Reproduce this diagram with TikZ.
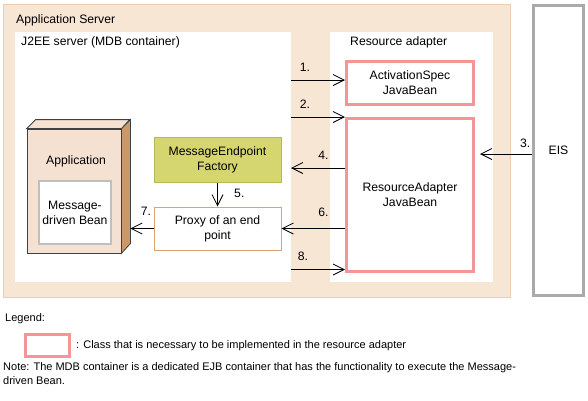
\documentclass[tikz,border=0pt]{standalone}
\usepackage{fontspec}
\setmainfont{Liberation Sans}
\usetikzlibrary{arrows.meta,positioning}
\definecolor{peach}{RGB}{248,230,213}
\definecolor{peachline}{RGB}{238,206,176}
\definecolor{implpink}{RGB}{244,150,150}
\definecolor{factory}{RGB}{214,214,112}
\definecolor{factoryline}{RGB}{182,186,84}
\definecolor{proxyline}{RGB}{218,164,112}
\definecolor{appfront}{RGB}{244,225,210}
\definecolor{appside}{RGB}{201,152,108}
\definecolor{eisline}{RGB}{170,170,170}

\begin{document}
\begin{tikzpicture}[x=1pt, y=-1pt, font=\fontsize{12.2}{15}\selectfont,
                    area/.style = {inner sep=0, outer sep=0, fill=white},
                    impl/.style = {draw=implpink, line width=3pt, fill=white, align=center, inner sep=0, minimum width=127pt},
                    box/.style = {draw, line width=1pt, align=center, inner sep=0, minimum width=127pt},
                    msg/.style = {-{Straight Barb[length=11pt,width=11pt]}, line width=0.8pt},
                    num/.style = {above=7pt, inner sep=1pt}]
                    \useasboundingbox (0,0) rectangle (588,400);
                    % containers
                    \node[area, draw=peachline, fill=peach, line width=1pt, minimum width=507pt, minimum height=293pt] (appsrv) at (256.5,150.5) {};
                    \node[area, minimum width=276pt, minimum height=250pt] (j2ee) at (153,157) {};
                    \node[area, minimum width=163pt, minimum height=250pt] (racont) at (411.5,157) {};
                    \node[anchor=west, inner sep=0] (appsrvlbl) at (16,20) {Application Server};
                    \node[anchor=west, inner sep=0] (j2eelbl) at (21,42) {J2EE server (MDB container)};
                    \node[anchor=west, inner sep=0] (racontlbl) at (350,42) {Resource adapter};
                    \node[draw=eisline, line width=3pt, fill=white, minimum width=50pt, minimum height=290pt, inner sep=0] (eis) at (558.5,150.5) {EIS};
                    % application
                    \node[draw=black!75, fill=appfront, line width=0.8pt, minimum width=94pt, minimum height=124pt, inner sep=0] (app) at (74,191) {};
                    \draw[draw=black!75, fill=appside, line width=0.8pt] (app.north east) -- ++(9,-9) -- ++(0,124) -- (app.south east) -- cycle;
                    \draw[draw=black!75, fill=appfront, line width=0.8pt] (app.north west) -- ++(9,-9) -- ++(94,0) -- (app.north east) -- cycle;
                    \node (applbl) at (76,161) {Application};
                    \node[draw=black!25, line width=1.5pt, fill=white, minimum width=72pt, minimum height=63pt, inner sep=0, align=center] (mdb) at (75,212.5) {Message-\\driven Bean};
                    % beans
                    \node[box, draw=factoryline, fill=factory, minimum height=45pt] (mef) at (217.5,159.5) {MessageEndpoint\\Factory};
                    \node[box, draw=proxyline, fill=white, minimum height=43pt] (proxy) at (217.5,228.5) {Proxy of an end\\point};
                    \node[impl, minimum height=43pt] (aspec) at (410,83) {ActivationSpec\\JavaBean};
                    \node[impl, minimum height=153pt] (rabean) at (410,195) {ResourceAdapter\\JavaBean};
                    % messages
                    \coordinate (m1) at ([yshift=3pt]aspec.west);
                    \coordinate (m3) at (480,154);
                    \coordinate (m4) at (rabean.west |- 0,168);
                    \coordinate (m7) at ([xshift=9pt]app.east |- proxy.west);
                    \coordinate (m8) at ([yshift=3.5pt]rabean.south west);
                    \path[msg] (j2ee.east |- m1) edge node[num, pos=.26] {1.} (m1);
                    \path[msg] (j2ee.east |- rabean.north west) edge node[num, pos=.26] {2.} (rabean.north west);
                    \path[msg] (eis.west |- m3) edge node[num, above=5pt, pos=.13] {3.} (m3);
                    \path[msg] (m4) edge node[num, pos=.4] {4.} (j2ee.east |- m4);
                    \path[msg] (mef) edge node[right=13pt, pos=.45] {5.} (proxy);
                    \path[msg] (rabean.west |- proxy.east) edge node[num, above=10pt, pos=.34] {6.} (proxy.east);
                    \path[msg] (proxy.west) edge node[num, above=12pt, pos=.33] {7.} (m7);
                    \path[msg] (j2ee.east |- m8) edge node[num, pos=.22] {8.} (m8);
                    % legend
                    \node[anchor=west, inner sep=0, font=\fontsize{11}{14}\selectfont] (legend) at (5,319) {Legend:};
                    \node[draw=implpink, line width=3pt, minimum width=44pt, minimum height=22pt, inner sep=0] (legbox) at (47.5,345.5) {};
                    \node[right=5pt of legbox, inner sep=0, font=\fontsize{11}{14}\selectfont] (legtext) {: Class that is necessary to be implemented in the resource adapter};
                    \node[anchor=north west, align=left, inner sep=0, font=\fontsize{11}{14}\selectfont] (note) at (3,362) {Note: The MDB container is a dedicated EJB container that has the functionality to execute the Message-\\driven Bean.};
                \end{tikzpicture}
\end{document}
